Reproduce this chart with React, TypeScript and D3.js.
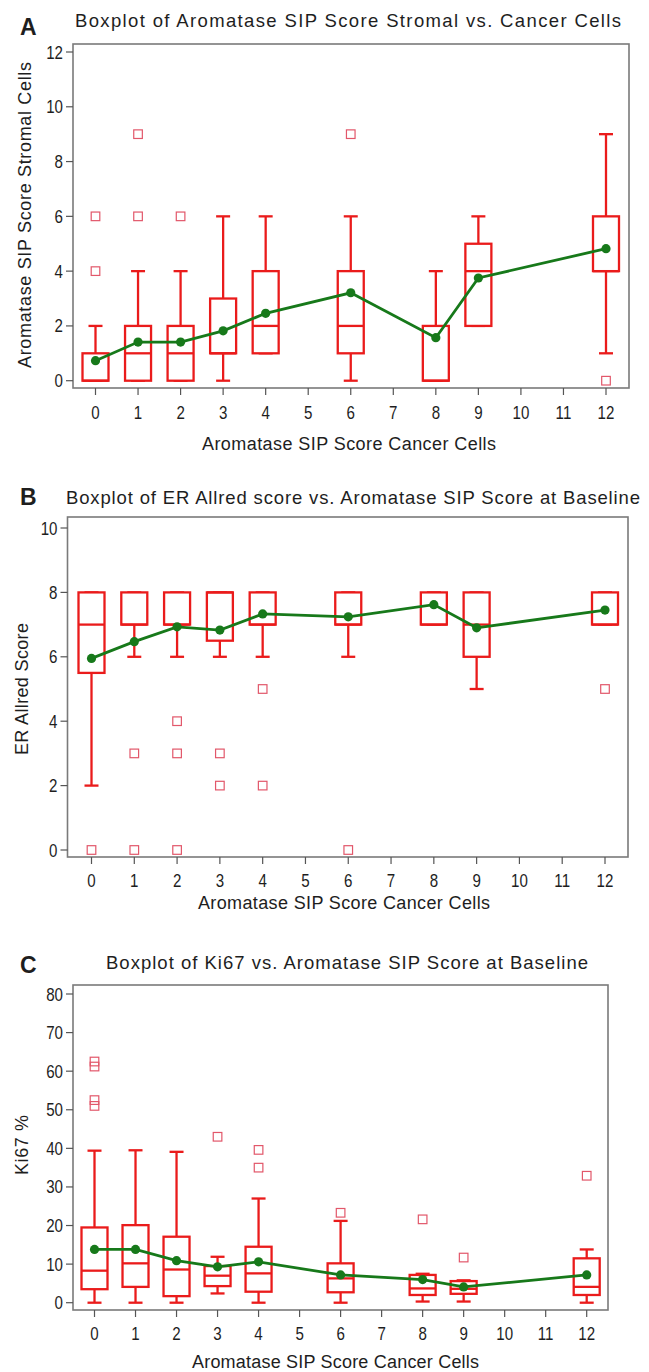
import React from "react";
import * as d3 from "d3";

// x groups (Aromatase SIP score, cancer cells)
const groups = [0, 1, 2, 3, 4, 6, 8, 9, 12];
const xTicks = [0, 1, 2, 3, 4, 5, 6, 7, 8, 9, 10, 11, 12];

// A: stromal SIP score
const aQ1 = [0, 0, 0, 1, 1, 1, 0, 2, 4];
const aMed = [0, 1, 1, 1, 2, 2, 0, 4, 4];
const aQ3 = [1, 2, 2, 3, 4, 4, 2, 5, 6];
const aLo = [0, 0, 0, 0, 1, 0, 0, 2, 1];
const aHi = [2, 4, 4, 6, 6, 6, 4, 6, 9];
const aMean = [0.73, 1.41, 1.41, 1.82, 2.46, 3.21, 1.57, 3.75, 4.82];
const aOut = [[4, 6], [6, 9], [6], [], [], [9], [], [], [0]];
const aYTicks = [0, 2, 4, 6, 8, 10, 12];

// B: ER Allred score
const bQ1 = [5.5, 7, 7, 6.5, 7, 7, 7, 6, 7];
const bMed = [7, 7, 7, 8, 7, 7, 7, 7, 7];
const bQ3 = [8, 8, 8, 8, 8, 8, 8, 8, 8];
const bLo = [2, 6, 6, 6, 6, 6, 7, 5, 7];
const bHi = [8, 8, 8, 8, 8, 8, 8, 8, 8];
const bMean = [5.95, 6.47, 6.93, 6.83, 7.33, 7.24, 7.62, 6.9, 7.45];
const bOut = [[0], [3, 0], [4, 3, 0], [3, 2], [5, 2], [0], [], [], [5]];
const bYTicks = [0, 2, 4, 6, 8, 10];

// C: Ki67 %
const cQ1 = [3.5, 4.1, 1.7, 4.3, 2.85, 2.7, 2.0, 2.3, 2.0];
const cMed = [8.3, 10.2, 8.6, 7.0, 7.6, 6.3, 3.7, 3.6, 4.1];
const cQ3 = [19.5, 20.1, 17.1, 9.5, 14.5, 10.2, 7.2, 5.6, 11.5];
const cLo = [0, 0, 0, 2.4, 0, 0, 0.3, 0.3, 0];
const cHi = [39.4, 39.5, 39.1, 11.9, 27, 21.2, 7.5, 5.8, 13.8];
const cMean = [13.8, 13.8, 10.9, 9.3, 10.6, 7.2, 6.0, 4.1, 7.2];
const cOut = [[62.5, 61.2, 52.5, 51], [], [], [43], [39.6, 35], [23.3], [21.6], [11.7], [32.9]];
const cYTicks = [0, 10, 20, 30, 40, 50, 60, 70, 80];

const FONT = "'Liberation Sans', Arial, sans-serif";
const RED = "#ea1b1b";
const PINK = "#e2576a";
const GREEN = "#17791a";
const INK = "#1e1e1e";
const SQ = 0.84; // horizontal squeeze of the narrow SAS font

const panels = [
  {
    letter: "A", letterY: 35,
    title: "Boxplot of Aromatase SIP Score Stromal vs. Cancer Cells", titleX: [75, 621], titleY: 27,
    xLabel: "Aromatase SIP Score Cancer Cells", xLabelX: [202, 496], xLabelY: 450, xTickY: 419,
    yLabel: "Aromatase SIP Score Stromal Cells", yLabelX: 25, yLabelY: 215, yLabelLen: 306,
    frame: [73, 629, 44, 388], xRange: [95.5, 606], yDomain: [0, 12], yRange: [380.7, 52],
    yTicks: aYTicks, q1: aQ1, med: aMed, q3: aQ3, lo: aLo, hi: aHi, mean: aMean, out: aOut,
  },
  {
    letter: "B", letterY: 505,
    title: "Boxplot of ER Allred score vs. Aromatase SIP Score at Baseline", titleX: [66, 640], titleY: 504,
    xLabel: "Aromatase SIP Score Cancer Cells", xLabelX: [198, 490], xLabelY: 909, xTickY: 887,
    yLabel: "ER Allred Score", yLabelX: 22, yLabelY: 689, yLabelLen: 132,
    frame: [67.5, 628, 517, 857], xRange: [91.5, 605], yDomain: [0, 10], yRange: [850, 528],
    yTicks: bYTicks, q1: bQ1, med: bMed, q3: bQ3, lo: bLo, hi: bHi, mean: bMean, out: bOut,
  },
  {
    letter: "C", letterY: 973,
    title: "Boxplot of Ki67 vs. Aromatase SIP Score at Baseline", titleX: [106, 588], titleY: 969,
    xLabel: "Aromatase SIP Score Cancer Cells", xLabelX: [192, 479], xLabelY: 1368, xTickY: 1340,
    yLabel: "Ki67 %", yLabelX: 22, yLabelY: 1145, yLabelLen: 60,
    frame: [73, 608, 985, 1310], xRange: [94.5, 586.7], yDomain: [0, 80], yRange: [1302.7, 994],
    yTicks: cYTicks, q1: cQ1, med: cMed, q3: cQ3, lo: cLo, hi: cHi, mean: cMean, out: cOut,
  },
];

function Panel({ p }: { p: any }) {
  const x = d3.scaleLinear().domain([0, 12]).range(p.xRange);
  const y = d3.scaleLinear().domain(p.yDomain).range(p.yRange);
  const [fx0, fx1, fy0, fy1] = p.frame;
  const boxW = 26;
  const capW = 14;
  const meanLine = d3.line<number>().x((d, i) => x(groups[i])).y(d => y(d));

  return (
    <g>
      <text x={20} y={p.letterY} fontFamily={FONT} fontWeight="bold" fontSize={23} fill={INK}>{p.letter}</text>
      <text x={p.titleX[0]} y={p.titleY} textLength={p.titleX[1] - p.titleX[0]} lengthAdjust="spacing"
        fontFamily={FONT} fontSize={18.5} fill={INK}>{p.title}</text>

      {/* frame */}
      <rect x={fx0} y={fy0} width={fx1 - fx0} height={fy1 - fy0} fill="white" stroke="#7a7a7a" strokeWidth={1.6} />

      {/* y axis */}
      {p.yTicks.map((t: number) => (
        <g key={"y" + t}>
          <line x1={fx0 - 7} x2={fx0} y1={y(t)} y2={y(t)} stroke="#555" strokeWidth={1.2} />
          <text transform={`translate(${fx0 - 10},${y(t) + 6.5}) scale(${SQ},1)`} textAnchor="end"
            fontFamily={FONT} fontSize={18} fill={INK}>{t}</text>
        </g>
      ))}
      {/* x axis */}
      {xTicks.map(t => (
        <g key={"x" + t}>
          <line x1={x(t)} x2={x(t)} y1={fy1} y2={fy1 + 7} stroke="#555" strokeWidth={1.2} />
          <text transform={`translate(${x(t)},${p.xTickY}) scale(${SQ},1)`} textAnchor="middle"
            fontFamily={FONT} fontSize={18} fill={INK}>{t}</text>
        </g>
      ))}
      <text x={p.xLabelX[0]} y={p.xLabelY} textLength={p.xLabelX[1] - p.xLabelX[0]} lengthAdjust="spacing"
        fontFamily={FONT} fontSize={18} fill={INK}>{p.xLabel}</text>
      <text transform={`translate(${p.yLabelX + 6},${p.yLabelY}) rotate(-90)`} x={-p.yLabelLen / 2} y={0}
        textLength={p.yLabelLen} lengthAdjust="spacing" fontFamily={FONT} fontSize={18} fill={INK}>{p.yLabel}</text>

      {/* boxes */}
      {groups.map((g, i) => {
        const cx = x(g);
        return (
          <g key={"b" + g} stroke={RED} strokeWidth={2.3} fill="none">
            <line x1={cx} x2={cx} y1={y(p.q3[i])} y2={y(p.hi[i])} />
            <line x1={cx} x2={cx} y1={y(p.q1[i])} y2={y(p.lo[i])} />
            <line x1={cx - capW / 2} x2={cx + capW / 2} y1={y(p.hi[i])} y2={y(p.hi[i])} />
            <line x1={cx - capW / 2} x2={cx + capW / 2} y1={y(p.lo[i])} y2={y(p.lo[i])} />
            <rect x={cx - boxW / 2} y={y(p.q3[i])} width={boxW} height={y(p.q1[i]) - y(p.q3[i])} fill="white" />
            <line x1={cx - boxW / 2} x2={cx + boxW / 2} y1={y(p.med[i])} y2={y(p.med[i])} />
            {p.out[i].map((v: number, j: number) => (
              <rect key={j} x={cx - 4.3} y={y(v) - 4.3} width={8.6} height={8.6} stroke={PINK} strokeWidth={1.2} />
            ))}
          </g>
        );
      })}

      {/* means */}
      <path d={meanLine(p.mean) || ""} fill="none" stroke={GREEN} strokeWidth={2.8} />
      {p.mean.map((m: number, i: number) => (
        <circle key={"m" + i} cx={x(groups[i])} cy={y(m)} r={4.6} fill={GREEN} />
      ))}
    </g>
  );
}

export default function App() {
  return (
    <svg width={649} height={1372} style={{ position: "absolute", left: 0, top: 0, background: "white" }}>
      <rect width={649} height={1372} fill="white" />
      {panels.map(p => <Panel key={p.letter} p={p} />)}
    </svg>
  );
}
